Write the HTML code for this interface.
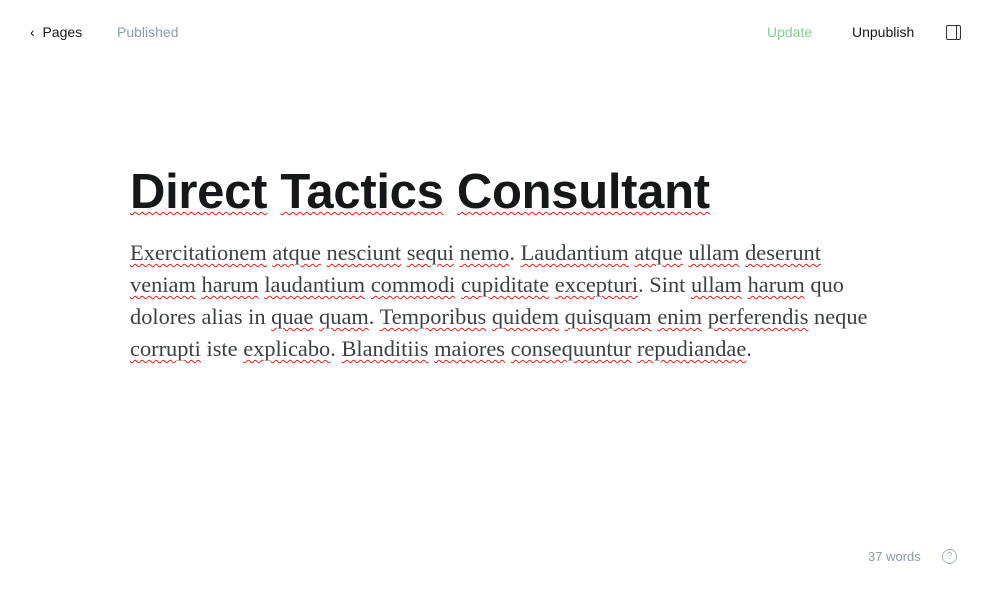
<!DOCTYPE html>
<html><head><meta charset="utf-8"><style>
body{margin:0;width:1000px;height:604px;background:#fff;font-family:"Liberation Sans",sans-serif;position:relative;overflow:hidden}
.a{position:absolute;white-space:nowrap}
.top{font-size:14px;top:24px}
.t{left:130px;top:164px;font-size:49px;font-weight:bold;color:#15171a;letter-spacing:-0.3px}
.p{left:130px;top:237px;font-family:"Liberation Serif",serif;font-size:22.4px;line-height:32px;color:#3d4046}
.s{text-decoration:underline wavy #e02020;text-decoration-thickness:1px;text-underline-offset:3px}
</style></head><body>
<div class="a top" style="left:30px;color:#15171a">‹&nbsp;&nbsp;Pages</div>
<div class="a top" style="left:117px;color:#8e9cac">Published</div>
<div class="a top" style="left:767px;color:#7fd18f">Update</div>
<div class="a top" style="left:852px;color:#15171a">Unpublish</div>
<div class="a" style="left:946px;top:25px;width:13px;height:13px;border:1.5px solid #333;border-radius:2px"><div style="position:absolute;right:3px;top:0;bottom:0;border-left:1.5px solid #333"></div></div>
<div class="a t"><span class="s">Direct</span> <span class="s">Tactics</span> <span class="s">Consultant</span></div>
<div class="a p"><span class="s">Exercitationem</span> <span class="s">atque</span> <span class="s">nesciunt</span> <span class="s">sequi</span> <span class="s">nemo</span>. <span class="s">Laudantium</span> <span class="s">atque</span> <span class="s">ullam</span> <span class="s">deserunt</span><br><span class="s">veniam</span> <span class="s">harum</span> <span class="s">laudantium</span> <span class="s">commodi</span> <span class="s">cupiditate</span> <span class="s">excepturi</span>. Sint <span class="s">ullam</span> <span class="s">harum</span> quo<br>dolores alias in <span class="s">quae</span> <span class="s">quam</span>. <span class="s">Temporibus</span> <span class="s">quidem</span> <span class="s">quisquam</span> <span class="s">enim</span> <span class="s">perferendis</span> neque<br><span class="s">corrupti</span> iste <span class="s">explicabo</span>. <span class="s">Blanditiis</span> <span class="s">maiores</span> <span class="s">consequuntur</span> <span class="s">repudiandae</span>.</div>
<div class="a" style="left:868px;top:549px;font-size:13px;color:#8e9cac">37 words</div>
<div class="a" style="left:942px;top:549px;width:13px;height:13px;border:1.2px solid #aab4bf;border-radius:50%;font-size:10px;line-height:13px;text-align:center;color:#aab4bf">?</div>
</body></html>
